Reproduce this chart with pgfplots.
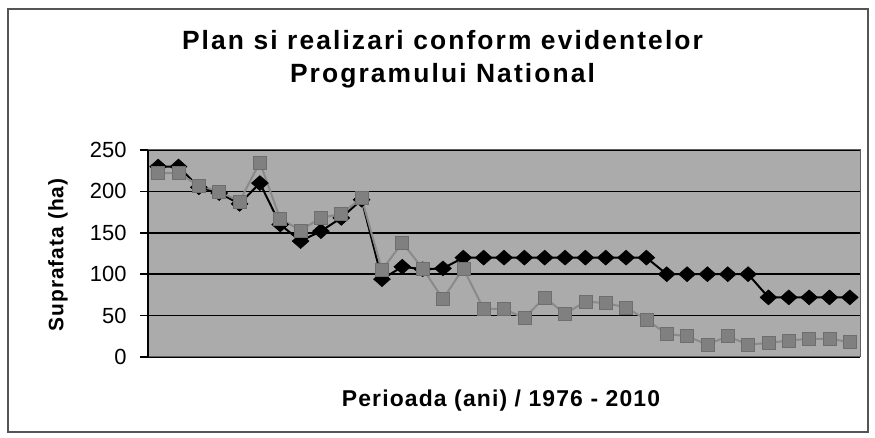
\documentclass[border=0pt]{standalone}
\usepackage{pgfplots}
\pgfplotsset{compat=1.18}
\usepackage{fontspec}
\setmainfont{Liberation Sans}
\newfontfamily\titlefont[LetterSpace=8]{Liberation Sans}
\newfontfamily\labfont[LetterSpace=5]{Liberation Sans}
\definecolor{bgGray}{HTML}{ABABAB}
\definecolor{sqFill}{HTML}{808080}
\definecolor{sqEdge}{HTML}{6E6E6E}
\definecolor{sqLine}{HTML}{8A8A8A}
\definecolor{frameGray}{HTML}{555555}
\begin{document}
\begin{tikzpicture}
\path (0bp,0bp) rectangle (875bp,438bp);
\draw[line width=2bp, frameGray] (8bp,6bp) rectangle (868bp,429bp);
\begin{axis}[
  at={(148bp,81bp)}, anchor=south west,
  scale only axis, width=712bp, height=207bp,
  xmin=0.5, xmax=35.5, ymin=0, ymax=250,
  ytick={0,50,100,150,200,250}, xtick=\empty,
  ymajorgrids, grid style={black, line width=1.5bp},
  axis background/.style={fill=bgGray},
  axis line style={gray!75!black, line width=1bp},
  tick pos=left, tick align=outside, major tick length=8bp,
  ytick style={black, line width=1.5bp},
  tick label style={font=\fontsize{22}{26}\selectfont},
  yticklabel style={xshift=-10bp},
  /pgf/number format/assume math mode=true,
  clip=false,
]
\draw[black, line width=1.5bp] (axis cs:0.5,0) -- (axis cs:0.5,250);
\addplot[black, line width=2bp, mark=diamond*, mark size=7.5bp,
  mark options={xscale=1.5, fill=black, draw=black, line width=0.5bp}] table {
x y
1 230
2 230
3 205
4 198
5 185
6 210
7 160
8 140
9 152
10 168
11 190
12 94
13 109
14 106
15 107
16 120
17 120
18 120
19 120
20 120
21 120
22 120
23 120
24 120
25 120
26 100
27 100
28 100
29 100
30 100
31 72
32 72
33 72
34 72
35 72
};
\addplot[sqLine, line width=2bp, mark=square*, mark size=6.5bp,
  mark options={fill=sqFill, draw=sqEdge, line width=0.6bp}] table {
x y
1 222
2 222
3 207
4 200
5 188
6 235
7 167
8 153
9 168
10 173
11 192
12 105
13 138
14 107
15 70
16 107
17 58
18 58
19 47
20 72
21 52
22 67
23 65
24 60
25 45
26 28
27 25
28 15
29 25
30 15
31 17
32 20
33 22
34 22
35 18
};
\end{axis}
\node[anchor=base, inner sep=0pt] at (442.5bp,388bp) {\titlefont\bfseries\fontsize{26.5}{30}\selectfont Plan si realizari conform evidentelor};
\node[anchor=base, inner sep=0pt] at (442.5bp,355bp) {\titlefont\bfseries\fontsize{26.5}{30}\selectfont Programului National};
\node[anchor=base, inner sep=0pt] at (501bp,32bp) {\labfont\bfseries\fontsize{23}{26}\selectfont Perioada (ani) / 1976 - 2010};
\node[rotate=90, inner sep=0pt] at (58bp,183bp) {\labfont\bfseries\fontsize{21}{25}\selectfont Suprafata (ha)};
\end{tikzpicture}
\end{document}
